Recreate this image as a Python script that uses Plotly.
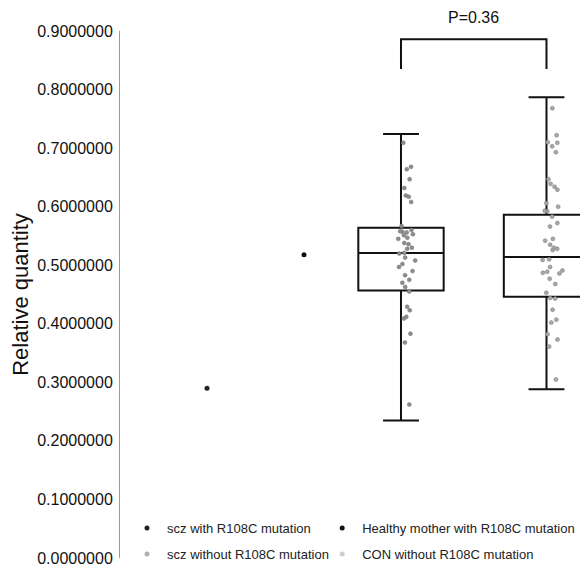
import plotly.graph_objects as go

# ---------------- data ----------------
group_names = ["scz with R108C mutation", "Healthy mother with R108C mutation",
               "scz without R108C mutation", "CON without R108C mutation"]

scz_with_values = [0.290]
healthy_mother_values = [0.518]

scz_without_values = [0.709, 0.664, 0.668, 0.647, 0.632, 0.617, 0.619, 0.608, 0.567,
                      0.560, 0.558, 0.556, 0.557, 0.553, 0.547, 0.538, 0.536, 0.530,
                      0.528, 0.520, 0.521, 0.513, 0.508, 0.497, 0.490, 0.483, 0.475,
                      0.470, 0.463, 0.455, 0.429, 0.423, 0.409, 0.412, 0.383, 0.368,
                      0.262, 0.545, 0.551, 0.502]
con_without_values = [0.768, 0.722, 0.709, 0.710, 0.703, 0.693, 0.647, 0.639, 0.634,
                      0.629, 0.606, 0.600, 0.593, 0.592, 0.583, 0.572, 0.566, 0.545,
                      0.542, 0.535, 0.526, 0.530, 0.528, 0.509, 0.510, 0.497, 0.489,
                      0.491, 0.487, 0.486, 0.477, 0.468, 0.453, 0.443, 0.444, 0.424,
                      0.402, 0.407, 0.382, 0.373, 0.361, 0.305]

# box statistics: [scz without, CON without]
box_q1 = [0.457, 0.446]
box_median = [0.521, 0.514]
box_q3 = [0.564, 0.586]
box_lower = [0.235, 0.288]
box_upper = [0.724, 0.787]

p_value_label = "P=0.36"
y_tick_values = [0.0, 0.1, 0.2, 0.3, 0.4, 0.5, 0.6, 0.7, 0.8, 0.9]

# ---------------- layout constants ----------------
group_pos = [1, 2, 3, 4.5]
FONT = "Liberation Sans, Arial, sans-serif"

fig = go.Figure()

# boxes (precomputed stats)
fig.add_trace(go.Box(
    x=[group_pos[2], group_pos[3]],
    q1=box_q1, median=box_median, q3=box_q3,
    lowerfence=box_lower, upperfence=box_upper,
    width=0.88, whiskerwidth=0.42,
    fillcolor="rgba(0,0,0,0)", line=dict(color="#111111", width=2),
    boxpoints=False, showlegend=False, hoverinfo="skip",
))

# jittered points inside boxes
for vals, pos, col in [(scz_without_values, group_pos[2], "#8c8c8c"),
                       (con_without_values, group_pos[3], "#a8a8a8")]:
    fig.add_trace(go.Box(
        y=vals, x0=pos, width=0.88,
        boxpoints="all", jitter=0.28, pointpos=0.15,
        fillcolor="rgba(0,0,0,0)", line=dict(color="rgba(0,0,0,0)", width=0),
        marker=dict(color=col, size=4, line=dict(color="#777777", width=0.5)),
        showlegend=False, hoverinfo="y",
    ))

# single points
fig.add_trace(go.Scatter(x=[group_pos[0]] * len(scz_with_values), y=scz_with_values,
                         mode="markers", marker=dict(color="#222222", size=5),
                         name=group_names[0], legend="legend"))
fig.add_trace(go.Scatter(x=[group_pos[1]] * len(healthy_mother_values), y=healthy_mother_values,
                         mode="markers", marker=dict(color="#111111", size=5),
                         name=group_names[1], legend="legend2"))
# legend entries for the box groups
fig.add_trace(go.Scatter(x=[None], y=[None], mode="markers",
                         marker=dict(color="#b0b0b0", size=5),
                         name=group_names[2], legend="legend3"))
fig.add_trace(go.Scatter(x=[None], y=[None], mode="markers",
                         marker=dict(color="#cfcfcf", size=5),
                         name=group_names[3], legend="legend4"))

# significance bracket
bx0, bx1 = group_pos[2], group_pos[3]
fig.add_shape(type="path", xref="x", yref="y",
              path=f"M {bx0},0.835 L {bx0},0.886 L {bx1},0.886 L {bx1},0.835",
              line=dict(color="#111111", width=2))
fig.add_annotation(x=(bx0 + bx1) / 2, y=1.0265, xref="x", yref="paper", text=p_value_label,
                   showarrow=False, yanchor="middle",
                   font=dict(family=FONT, size=16, color="#111111"))

leg_common = dict(font=dict(family=FONT, size=13, color="#222222"), bgcolor="rgba(0,0,0,0)",
                  xanchor="left", yanchor="middle", itemwidth=30)
fig.update_layout(
    width=580, height=561,
    margin=dict(l=112, r=0, t=23, b=10),
    paper_bgcolor="white", plot_bgcolor="white",
    font=dict(family=FONT, color="#111111"),
    xaxis=dict(range=[0.103, 4.928], visible=False, showgrid=False, zeroline=False),
    yaxis=dict(range=[0, 0.9], tickvals=y_tick_values, tickformat=".7f",
               showgrid=False, zeroline=False, showline=True, linecolor="#9a9a9a",
               linewidth=1, ticks="", ticklabelstandoff=3,
               tickfont=dict(family=FONT, size=16, color="#111111"),
               title=dict(text="Relative quantity", font=dict(family=FONT, size=22, color="#111111"),
                          standoff=2)),
    legend=dict(x=0.015, y=0.0587, **leg_common),
    legend2=dict(x=0.432, y=0.0587, **leg_common),
    legend3=dict(x=0.015, y=0.0076, **leg_common),
    legend4=dict(x=0.432, y=0.0076, **leg_common),
)

fig.write_html("out.html")
